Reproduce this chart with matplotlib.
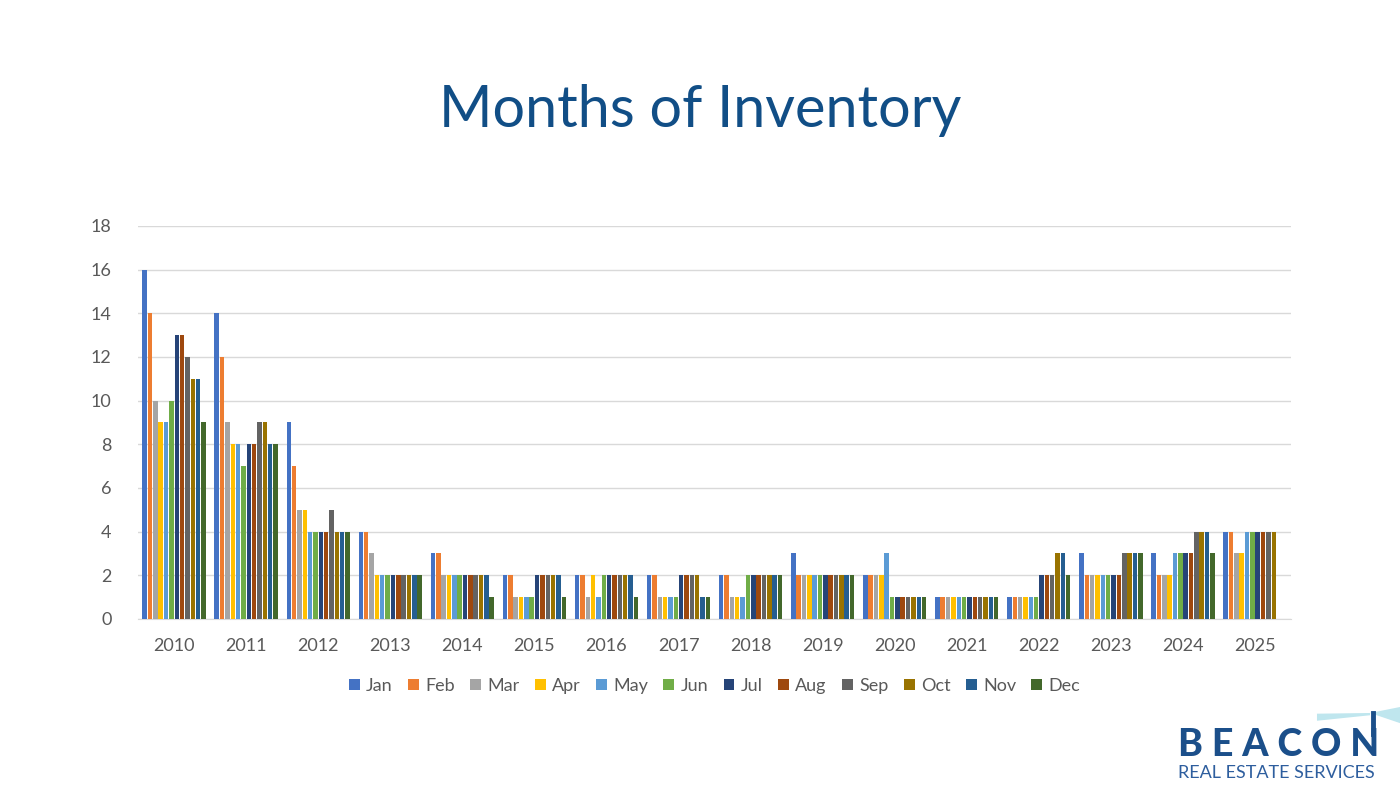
import numpy as np
import matplotlib.pyplot as plt
from matplotlib.patches import Polygon

plt.rcParams['font.family'] = ['Lato', 'DejaVu Sans']

years = ['2010', '2011', '2012', '2013', '2014', '2015', '2016', '2017',
         '2018', '2019', '2020', '2021', '2022', '2023', '2024', '2025']
months = ['Jan', 'Feb', 'Mar', 'Apr', 'May', 'Jun',
          'Jul', 'Aug', 'Sep', 'Oct', 'Nov', 'Dec']
colors = ['#4472C4', '#ED7D31', '#A5A5A5', '#FFC000', '#5B9BD5', '#70AD47',
          '#264478', '#9E480E', '#636363', '#997300', '#255E91', '#43682B']

# months of inventory, one row per year (Jan..Dec)
nan = np.nan
values = [
    [16, 14, 10, 9, 9, 10, 13, 13, 12, 11, 11, 9],
    [14, 12, 9, 8, 8, 7, 8, 8, 9, 9, 8, 8],
    [9, 7, 5, 5, 4, 4, 4, 4, 5, 4, 4, 4],
    [4, 4, 3, 2, 2, 2, 2, 2, 2, 2, 2, 2],
    [3, 3, 2, 2, 2, 2, 2, 2, 2, 2, 2, 1],
    [2, 2, 1, 1, 1, 1, 2, 2, 2, 2, 2, 1],
    [2, 2, 1, 2, 1, 2, 2, 2, 2, 2, 2, 1],
    [2, 2, 1, 1, 1, 1, 2, 2, 2, 2, 1, 1],
    [2, 2, 1, 1, 1, 2, 2, 2, 2, 2, 2, 2],
    [3, 2, 2, 2, 2, 2, 2, 2, 2, 2, 2, 2],
    [2, 2, 2, 2, 3, 1, 1, 1, 1, 1, 1, 1],
    [1, 1, 1, 1, 1, 1, 1, 1, 1, 1, 1, 1],
    [1, 1, 1, 1, 1, 1, 2, 2, 2, 3, 3, 2],
    [3, 2, 2, 2, 2, 2, 2, 2, 3, 3, 3, 3],
    [3, 2, 2, 2, 3, 3, 3, 3, 4, 4, 4, 3],
    [4, 4, 3, 3, 4, 4, 4, 4, 4, 4, nan, nan],
]
values = np.array(values, dtype=float)

fig = plt.figure(figsize=(14, 7.86), dpi=100)
ax = fig.add_axes([0.0986, 0.2125, 0.8236, 0.5])

x = np.arange(len(years))
slot = 0.89 / 12
for i, m in enumerate(months):
    ax.bar(x - 0.445 + slot * (i + 0.5), values[:, i], width=slot * 0.84,
           color=colors[i], label=m, zorder=3)

ax.set_xlim(-0.5, len(years) - 0.5)
ax.set_ylim(0, 18)
ax.set_yticks(range(0, 19, 2))
ax.set_xticks(x)
ax.set_xticklabels(years)
ax.grid(axis='y', color='#D9D9D9', linewidth=1, zorder=0)
for s in ['top', 'right', 'left']:
    ax.spines[s].set_visible(False)
ax.spines['bottom'].set_color('#D9D9D9')
ax.tick_params(length=0, labelsize=13, colors='#595959')
ax.tick_params(axis='x', pad=14)
ax.tick_params(axis='y', pad=19)

ax.legend(loc='upper center', bbox_to_anchor=(0.5, -0.108), ncol=12,
          frameon=False, fontsize=13, handlelength=0.6, handleheight=0.6,
          handletextpad=0.35, columnspacing=0.85, labelcolor='#595959')

fig.text(0.5, 0.86, 'Months of Inventory', ha='center', va='center',
         fontsize=41.5, color='#114E86')

# logo: light beam, lighthouse tower, name
beam_l = Polygon([[0.9786, 0.0929], [0.9407, 0.0920], [0.9407, 0.0830],
                  [0.9786, 0.0900]], closed=True, transform=fig.transFigure,
                 color='#BFE6EE', lw=0)
beam_r = Polygon([[0.9786, 0.0929], [1.0, 0.1005], [1.0, 0.0800]],
                 closed=True, transform=fig.transFigure, color='#BFE6EE', lw=0)
fig.patches.extend([beam_l, beam_r])
fig.add_artist(plt.Line2D([0.9805, 0.9805], [0.066, 0.0929],
                          transform=fig.transFigure, color='#1B4F8A', lw=3.5))
fig.text(0.8415, 0.030, 'B E A C O N', ha='left', va='bottom',
         fontsize=27, fontweight='black', color='#1B4F8A')
fig.text(0.8415, 0.006, 'REAL ESTATE SERVICES', ha='left', va='bottom',
         fontsize=13, color='#2E5E9E')

plt.savefig('out.png', dpi=100)
